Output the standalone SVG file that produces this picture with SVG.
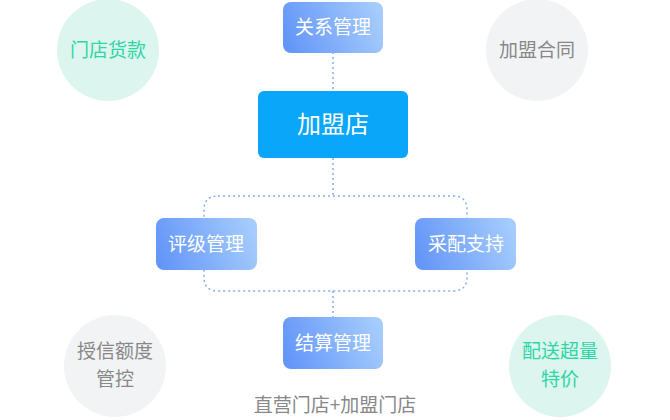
<svg xmlns="http://www.w3.org/2000/svg" width="670" height="420" viewBox="0 0 670 420">
<defs>
<linearGradient id="g" x1="0" y1="0.6" x2="1" y2="0.4"><stop offset="0" stop-color="#6496f8"/><stop offset="1" stop-color="#a5ccfd"/></linearGradient>
<style>
text{font-family:"Noto Sans CJK SC",sans-serif;text-anchor:middle}
.b{fill:url(#g)}
.w{fill:#fff;font-size:19px}
.c{stroke:#7fb0f4;stroke-width:1.5;stroke-dasharray:2 3;fill:none}
</style>
</defs>
<rect width="670" height="420" fill="#fff"/>
<g id="c1"><circle cx="108" cy="50" r="51" fill="#dcf5ef"/><text x="108" y="57" font-size="19" fill="#2fd6a5">门店货款</text></g>
<g id="c2"><circle cx="537" cy="50" r="51" fill="#f2f3f5"/><text x="537" y="57" font-size="19" fill="#888">加盟合同</text></g>
<g id="c3"><circle cx="115" cy="366" r="51" fill="#f2f3f5"/><text x="115" y="358" font-size="19" fill="#888">授信额度</text><text x="115" y="386" font-size="19" fill="#888">管控</text></g>
<g id="c4"><circle cx="560" cy="366" r="51" fill="#dcf5ef"/><text x="560" y="358" font-size="19" fill="#2fd6a5">配送超量</text><text x="560" y="386" font-size="19" fill="#2fd6a5">特价</text></g>
<g id="connectors">
<path class="c" d="M333 52V91M333 158V196M218 196H453Q467 196 467 210V277Q467 291 453 291H218Q204 291 204 277V210Q204 196 218 196M333 291V317"/>
</g>
<g id="n1"><rect class="b" x="283" y="2" width="100" height="51" rx="8"/><text class="w" x="333" y="34">关系管理</text></g>
<g id="n2"><rect x="258" y="91" width="150" height="67" rx="6" fill="#0aa6fa"/><text x="333" y="133" font-size="24" fill="#fff">加盟店</text></g>
<g id="n3"><rect class="b" x="156" y="218" width="101" height="52" rx="8"/><text class="w" x="206" y="251">评级管理</text></g>
<g id="n4"><rect class="b" x="415" y="218" width="101" height="52" rx="8"/><text class="w" x="466" y="251">采配支持</text></g>
<g id="n5"><rect class="b" x="283" y="317" width="100" height="52" rx="8"/><text class="w" x="333" y="350">结算管理</text></g>
<text x="335" y="412" font-size="19" fill="#888">直营门店+加盟门店</text>
</svg>
